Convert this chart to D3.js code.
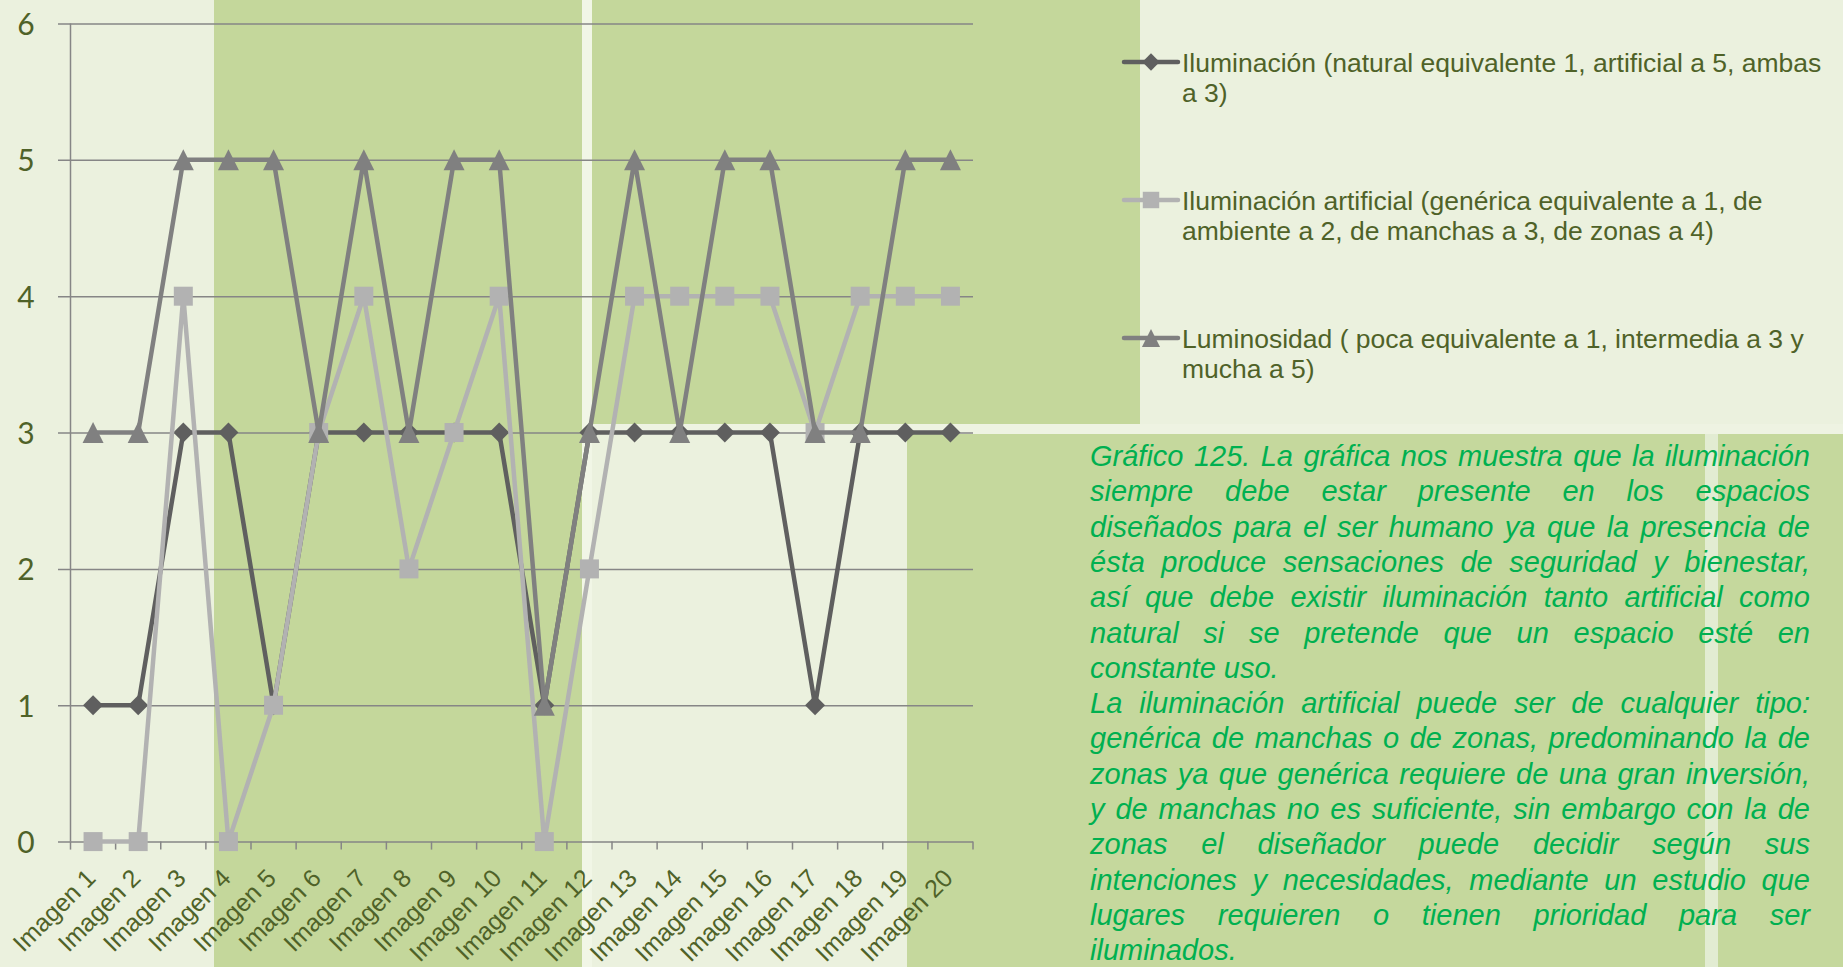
<!DOCTYPE html>
<html>
<head>
<meta charset="utf-8">
<script src="https://cdn.jsdelivr.net/npm/d3@7"></script>
<style>
body { margin: 0; background: #ebf1de; overflow: hidden; }
</style>
</head>
<body>
<div id="chart"></div>
<script>
// data
var categories = ["Imagen 1","Imagen 2","Imagen 3","Imagen 4","Imagen 5","Imagen 6","Imagen 7","Imagen 8","Imagen 9","Imagen 10",
                  "Imagen 11","Imagen 12","Imagen 13","Imagen 14","Imagen 15","Imagen 16","Imagen 17","Imagen 18","Imagen 19","Imagen 20"];
var iluminacion = [1,1,3,3,1,3,3,3,3,3,1,3,3,3,3,3,1,3,3,3];
var artificial  = [0,0,4,0,1,3,4,2,3,4,0,2,4,4,4,4,3,4,4,4];
var luminosidad = [3,3,5,5,5,3,5,3,5,5,1,3,5,3,5,5,3,3,5,5];
var yTicks = [0,1,2,3,4,5,6];

var legendLabels = [
    ["Iluminación (natural equivalente 1, artificial a 5, ambas", "a 3)"],
    ["Iluminación artificial (genérica equivalente a 1, de", "ambiente a 2, de manchas a 3, de zonas a 4)"],
    ["Luminosidad ( poca equivalente a 1, intermedia a 3 y", "mucha a 5)"]
];

var noteLines = [
    "Gráfico 125. La gráfica nos muestra  que la iluminación",
    "siempre debe estar presente en los espacios",
    "diseñados para el ser humano ya que la presencia de",
    "ésta produce sensaciones de seguridad y bienestar,",
    "así que debe existir iluminación tanto artificial como",
    "natural si se pretende que un espacio esté en",
    "constante uso.",
    "La iluminación artificial puede ser de cualquier tipo:",
    "genérica de manchas o de zonas, predominando la de",
    "zonas ya que genérica requiere de una gran inversión,",
    "y de manchas no es suficiente, sin embargo con la de",
    "zonas el diseñador puede decidir según sus",
    "intenciones y necesidades, mediante un estudio que",
    "lugares requieren o tienen prioridad para ser",
    "iluminados."
];
var noteLastLines = [6, 14]; // paragraph ends, not justified

function init(){
    var W = 1843, H = 967;
    var left = 70.5, right = 973, top = 23.5, bottom = 841.6;
    var olive = "#4f6228", grid = "#868686";

    var svg = d3.select("#chart").append("svg")
        .attr("width", W).attr("height", H)
        .style("display", "block");

    // page background blocks
    var bg = svg.append("g");
    bg.append("rect").attr("x",0).attr("y",0).attr("width",W).attr("height",H).attr("fill","#ebf1de");
    bg.append("rect").attr("x",214).attr("y",0).attr("width",368).attr("height",H).attr("fill","#c4d79b");
    bg.append("rect").attr("x",582).attr("y",0).attr("width",10).attr("height",H).attr("fill","#f1f6e6");
    bg.append("rect").attr("x",592).attr("y",0).attr("width",548).attr("height",424).attr("fill","#c4d79b");
    bg.append("rect").attr("x",592).attr("y",424).attr("width",W-592).attr("height",10).attr("fill","#eef3e2");
    bg.append("rect").attr("x",907).attr("y",434).attr("width",W-907).attr("height",H-434).attr("fill","#c5d89d");
    bg.append("rect").attr("x",1705).attr("y",434).attr("width",13).attr("height",H-434).attr("fill","#e2ecd2");

    var x = d3.scaleBand().domain(categories).range([left, right]).padding(0);
    var y = d3.scaleLinear().domain([0, 6]).range([bottom, top]);
    var cx = function(i){ return x(categories[i]) + x.bandwidth()/2; };

    // y gridlines + labels
    var yAxis = svg.append("g")
        .attr("transform", "translate(" + left + ",0)")
        .call(d3.axisLeft(y).tickValues(yTicks).tickSize(-(right-left)).tickFormat(d3.format("d")));
    yAxis.select(".domain").attr("stroke", grid).attr("stroke-width", 1.5).attr("d", "M0," + top + "V" + bottom);
    yAxis.selectAll(".tick line").attr("x1", -12.5).attr("stroke", grid).attr("stroke-width", 1.5);
    yAxis.selectAll(".tick text")
        .attr("x", -44.5).attr("dy", "0.36em")
        .attr("text-anchor", "middle")
        .attr("fill", olive)
        .style("font-family", "Lato, 'Open Sans', sans-serif")
        .style("font-size", "30px");

    // x axis ticks between categories
    var boundaries = categories.map(function(c){ return x(c); }).concat([right]);
    var xg = svg.append("g");
    xg.selectAll("line.tk").data(boundaries).enter().append("line")
        .attr("x1", function(d){ return d; }).attr("x2", function(d){ return d; })
        .attr("y1", bottom).attr("y2", bottom + 8)
        .attr("stroke", grid).attr("stroke-width", 1.5);

    // rotated category labels
    xg.selectAll("text").data(categories).enter().append("text")
        .attr("transform", function(d, i){ return "translate(" + (cx(i) + 4) + "," + (bottom + 38) + ") rotate(-45)"; })
        .attr("text-anchor", "end")
        .attr("fill", olive)
        .style("font-family", "'Liberation Sans', Arial, sans-serif")
        .style("font-size", "25px")
        .text(function(d){ return d; });

    // series
    var triangle = {
        draw: function(ctx, size){
            var h = Math.sqrt(size) / 2;
            ctx.moveTo(0, -h); ctx.lineTo(h, h); ctx.lineTo(-h, h); ctx.closePath();
        }
    };
    var series = [
        { values: iluminacion, color: "#5f5f5f", type: d3.symbolSquare, size: 200, rotate: 45 },
        { values: artificial,  color: "#b2b2b2", type: d3.symbolSquare, size: 361, rotate: 0 },
        { values: luminosidad, color: "#808080", type: triangle,        size: 441, rotate: 0 }
    ];

    var line = d3.line()
        .x(function(d, i){ return cx(i); })
        .y(function(d){ return y(d); });

    series.forEach(function(s){
        var g = svg.append("g");
        g.append("path").datum(s.values)
            .attr("d", line)
            .attr("fill", "none")
            .attr("stroke", s.color)
            .attr("stroke-width", 4.5)
            .attr("stroke-linejoin", "round");
        g.selectAll("path.mk").data(s.values).enter().append("path")
            .attr("class", "mk")
            .attr("d", d3.symbol().type(s.type).size(s.size))
            .attr("transform", function(d, i){ return "translate(" + cx(i) + "," + y(d) + ") rotate(" + s.rotate + ")"; })
            .attr("fill", s.color);
    });

    // legend
    var legendY = [62, 200, 338];
    var leg = svg.append("g");
    series.forEach(function(s, k){
        var gy = legendY[k];
        leg.append("line")
            .attr("x1", 1124).attr("x2", 1178).attr("y1", gy).attr("y2", gy)
            .attr("stroke", s.color).attr("stroke-width", 4.5).attr("stroke-linecap", "round");
        leg.append("path")
            .attr("d", d3.symbol().type(s.type).size(s.size * 0.75))
            .attr("transform", "translate(1151," + gy + ") rotate(" + s.rotate + ")")
            .attr("fill", s.color);
        var t = leg.append("text")
            .attr("x", 1182).attr("y", gy + 10)
            .attr("fill", olive)
            .style("font-family", "'Liberation Sans', Arial, sans-serif")
            .style("font-size", "26.5px");
        legendLabels[k].forEach(function(l, j){
            t.append("tspan").attr("x", 1182).attr("y", gy + 10 + j * 30).text(l);
        });
    });

    // note text, justified word by word
    var noteLeft = 1090, noteRight = 1810, noteTop = 466, noteStep = 35.3;
    var note = svg.append("g")
        .attr("fill", "#00b050")
        .style("font-family", "'Liberation Sans', Arial, sans-serif")
        .style("font-size", "29px")
        .style("font-style", "italic");
    noteLines.forEach(function(l, i){
        var ty = noteTop + i * noteStep;
        var words = l.split(/\s+/);
        if (noteLastLines.indexOf(i) >= 0) {
            note.append("text").attr("x", noteLeft).attr("y", ty).text(l);
            return;
        }
        var t = note.append("text").attr("y", ty);
        var widths = words.map(function(w){
            var tmp = note.append("text").text(w);
            var wd = tmp.node().getComputedTextLength();
            tmp.remove();
            return wd;
        });
        var gap = (noteRight - noteLeft - d3.sum(widths)) / (words.length - 1);
        var xx = noteLeft;
        words.forEach(function(w, j){
            t.append("tspan").attr("x", xx).text(w + (j < words.length - 1 ? " " : ""));
            xx += widths[j] + gap;
        });
    });
}
window.onload = init;
</script>
</body>
</html>
